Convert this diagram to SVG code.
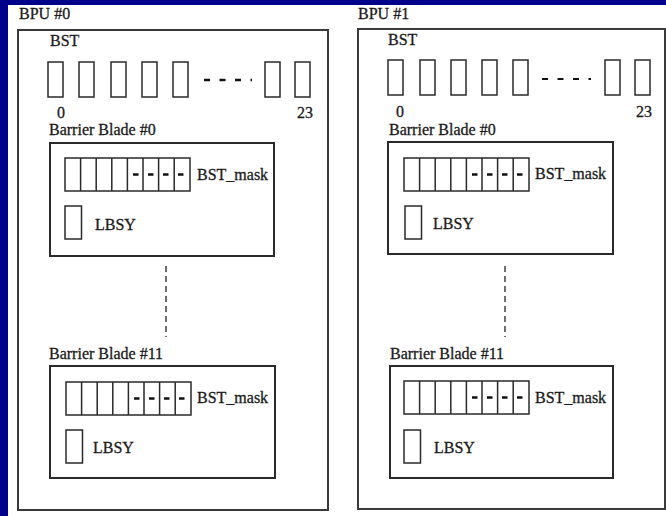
<svg xmlns="http://www.w3.org/2000/svg" width="666" height="516" viewBox="0 0 666 516">
  <defs>
    <style>
      .txt { font-family: "Liberation Serif", "Times New Roman", serif; font-size: 16px; fill: #1a1a1a; stroke: #1a1a1a; stroke-width: 0.3; }
      .frame { fill: none; stroke: #3a3a3a; stroke-width: 2; }
      .blade { fill: none; stroke: #2a2a2a; stroke-width: 2; }
      .cell { fill: #fff; stroke: #2a2a2a; stroke-width: 1.5; }
      .dots { fill: none; stroke: #111; stroke-width: 2.5; stroke-dasharray: 5.5 9.5; }
      .ellipsis { fill: none; stroke: #222; stroke-width: 1.3; stroke-dasharray: 6 4; }
    </style>
    <!-- one register cell of the BST row -->
    <rect id="bstCell" class="cell" x="0" y="0" width="15" height="35"/>
    <!-- 8-bit mask register with dashed marks over the upper bits -->
    <g id="mask">
      <rect class="cell" x="0" y="0" width="125" height="33"/>
      <path d="M15.6 0V33M31.2 0V33M46.8 0V33M62.4 0V33M78 0V33M93.6 0V33M109.2 0V33" stroke="#2a2a2a" stroke-width="1.5" fill="none"/>
      <line class="dots" x1="68" y1="16.5" x2="122" y2="16.5"/>
    </g>
    <rect id="lbsyCell" class="cell" x="0" y="0" width="16.5" height="33"/>
  </defs>

  <!-- slide background -->
  <rect x="0" y="0" width="666" height="516" fill="#00008b"/>
  <rect x="8" y="5" width="658" height="511" fill="#fff"/>

  <!-- BPU #0 -->
  <g id="bpu0">
    <text class="txt" x="19" y="19">BPU #0</text>
    <rect class="frame" x="18" y="30" width="310" height="480"/>
    <g id="bpu0-bst">
      <text class="txt" x="50" y="46">BST</text>
      <use href="#bstCell" x="48" y="62"/>
      <use href="#bstCell" x="79" y="62"/>
      <use href="#bstCell" x="111" y="62"/>
      <use href="#bstCell" x="142" y="62"/>
      <use href="#bstCell" x="173" y="62"/>
      <line class="dots" x1="204" y1="80" x2="252" y2="80" style="stroke-dasharray:6 9.5"/>
      <use href="#bstCell" x="265" y="62"/>
      <use href="#bstCell" x="295" y="62"/>
      <text class="txt" x="57" y="118">0</text>
      <text class="txt" x="297" y="118">23</text>
    </g>
    <g id="bpu0-blade0">
      <text class="txt" x="49" y="135">Barrier Blade #0</text>
      <rect class="blade" x="50" y="143" width="224" height="113"/>
      <use href="#mask" x="65" y="158"/>
      <text class="txt" x="197" y="180">BST_mask</text>
      <use href="#lbsyCell" x="65" y="206"/>
      <text class="txt" x="95" y="230">LBSY</text>
    </g>
    <g id="bpu0-blade11">
      <text class="txt" x="49" y="359">Barrier Blade #11</text>
      <rect class="blade" x="50" y="366" width="225" height="112"/>
      <use href="#mask" x="66" y="382"/>
      <text class="txt" x="197" y="403">BST_mask</text>
      <use href="#lbsyCell" x="66" y="430"/>
      <text class="txt" x="93" y="453">LBSY</text>
    </g>
  </g>

  <!-- BPU #1 -->
  <g id="bpu1">
    <text class="txt" x="358" y="19">BPU #1</text>
    <rect class="frame" x="358" y="29" width="307" height="480"/>
    <g id="bpu1-bst">
      <text class="txt" x="388" y="45">BST</text>
      <use href="#bstCell" x="388" y="60"/>
      <use href="#bstCell" x="420" y="60"/>
      <use href="#bstCell" x="451" y="60"/>
      <use href="#bstCell" x="482" y="60"/>
      <use href="#bstCell" x="513" y="60"/>
      <line class="dots" x1="542" y1="79" x2="591" y2="79" style="stroke-dasharray:6 9.5;stroke-width:2"/>
      <use href="#bstCell" x="605" y="60"/>
      <use href="#bstCell" x="635" y="60"/>
      <text class="txt" x="396" y="117">0</text>
      <text class="txt" x="636" y="117">23</text>
    </g>
    <g id="bpu1-blade0">
      <text class="txt" x="389" y="135">Barrier Blade #0</text>
      <rect class="blade" x="388" y="142" width="225" height="112"/>
      <use href="#mask" x="404" y="158"/>
      <text class="txt" x="535" y="179">BST_mask</text>
      <use href="#lbsyCell" x="405" y="206"/>
      <text class="txt" x="433" y="229">LBSY</text>
    </g>
    <g id="bpu1-blade11">
      <text class="txt" x="390" y="359">Barrier Blade #11</text>
      <rect class="blade" x="390" y="366" width="223" height="112"/>
      <use href="#mask" x="404" y="381"/>
      <text class="txt" x="535" y="403">BST_mask</text>
      <use href="#lbsyCell" x="404" y="430"/>
      <text class="txt" x="434" y="453">LBSY</text>
    </g>
  </g>

  <!-- vertical ellipses between blade #0 and blade #11 -->
  <g id="connectors">
    <line class="ellipsis" x1="166" y1="266" x2="166" y2="337"/>
    <line class="ellipsis" x1="505" y1="266" x2="505" y2="337"/>
  </g>
</svg>
